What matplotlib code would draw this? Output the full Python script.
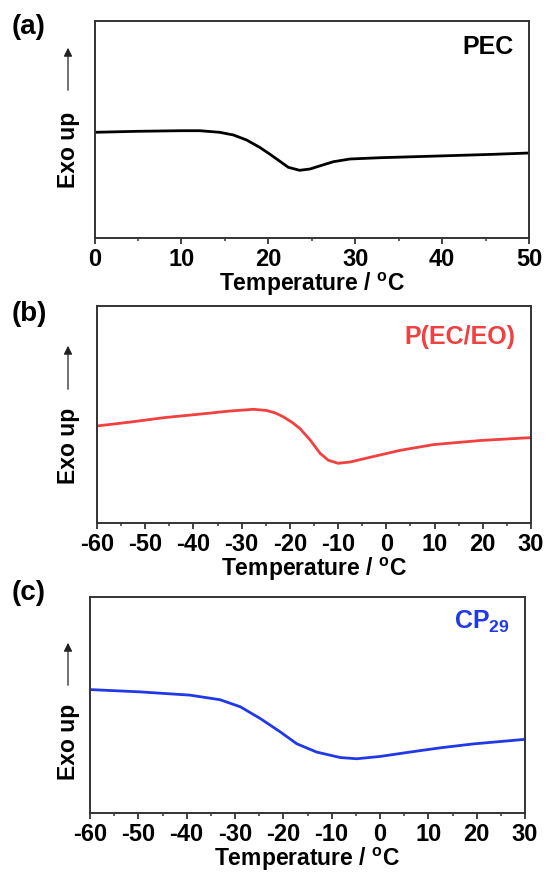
import numpy as np
import matplotlib
matplotlib.use("Agg")
import matplotlib.pyplot as plt
from matplotlib.patches import FancyArrowPatch

plt.rcParams['font.family'] = ['Liberation Sans', 'DejaVu Sans']
plt.rcParams['font.weight'] = 'bold'
plt.rcParams['axes.unicode_minus'] = False
plt.rcParams['mathtext.fontset'] = 'custom'
plt.rcParams['mathtext.rm'] = 'Liberation Sans:bold'
plt.rcParams['mathtext.bf'] = 'Liberation Sans:bold'
plt.rcParams['mathtext.it'] = 'Liberation Sans:bold'

# ---- data (heat flow, arbitrary units) ----
pec_T = [0, 5, 10, 12.1, 14.4, 16, 17.5, 19, 20.2, 21.4, 22.3, 23.6, 24.8, 26, 27.5, 29.4, 32.9, 38.4, 46, 50]
pec_H = [105.7, 106.7, 107.3, 107.3, 105.7, 103, 98, 90.7, 83.7, 76.3, 70.7, 67.7, 69, 72.3, 76.3, 79, 80.3, 81.7, 83.7, 85]

peceo_T = [-60, -53, -46, -39, -32.4, -27.5, -24.8, -23, -21.3, -19.5, -17.9, -15.8, -13.7, -12, -10, -7.5, -4, 2.9, 9.8, 19.5, 30]
peceo_H = [97, 101, 105.4, 108.7, 112, 113.7, 112.5, 110, 106, 100.5, 94.4, 83, 69.5, 62.7, 59.7, 61, 65, 72.7, 78.4, 82.5, 85.4]

cp29_T = [-60, -49.7, -39.3, -33.1, -28.9, -24.8, -20.7, -17.2, -13.1, -8.2, -4.8, 0, 6.9, 12.5, 19.3, 30]
cp29_H = [124, 121.7, 118.4, 113.8, 106.7, 95, 81.7, 69.5, 61.2, 55.7, 54.5, 56.8, 61.7, 65.5, 69.4, 74]

panel_letters = ['(a)', '(b)', '(c)']
sample_names = ['PEC', 'P(EC/EO)', r'CP$_{\mathregular{29}}$']
colors = ['#000000', '#f04040', '#2038e6']
xlims = [(0, 50), (-60, 30), (-60, 30)]
xticks = [list(range(0, 51, 10)), list(range(-60, 31, 10)), list(range(-60, 31, 10))]
xminor = [list(range(5, 50, 10)), list(range(-55, 30, 10)), list(range(-55, 30, 10))]
series = [(pec_T, pec_H), (peceo_T, peceo_H), (cp29_T, cp29_H)]

W, H = 546, 875
fig = plt.figure(figsize=(W / 100, H / 100), dpi=100)

# axes boxes in pixels: left, right, top, bottom
boxes = [(94.5, 529, 21, 238), (97, 531, 306, 523), (90, 525, 597, 813)]
letter_pos = [(12, 27), (12, 314), (12, 593)]
arrow_pos = [(68, 45, 93, 150), (68, 343, 392, 446), (68, 640, 688, 742)]
name_y = [0.88, 0.855, 0.885]

for i in range(3):
    l, r, t, b = boxes[i]
    ax = fig.add_axes([l / W, 1 - b / H, (r - l) / W, (b - t) / H])
    T, Hf = series[i]
    ax.plot(T, Hf, color=colors[i], lw=2.0, solid_capstyle='round', solid_joinstyle='round')
    ax.set_xlim(*xlims[i])
    ax.set_ylim(0, 217)
    ax.set_yticks([])
    ax.set_xticks(xticks[i])
    ax.set_xticks(xminor[i], minor=True)
    ax.tick_params(axis='x', which='major', direction='out', length=4, width=1.3,
                   labelsize=17, pad=3, color='#333333')
    ax.tick_params(axis='x', which='minor', direction='out', length=2.2, width=1.1, color='#333333')
    for lab in ax.get_xticklabels():
        lab.set_fontweight('bold')
    for s in ax.spines.values():
        s.set_linewidth(1.4)
        s.set_color('#333333')
    ax.set_xlabel(r'Temperature / $^{\mathregular{o}}$C', fontsize=16.5, fontweight='bold', labelpad=0)
    ax.text(0.965, name_y[i], sample_names[i], transform=ax.transAxes, ha='right', va='center',
            fontsize=18, fontweight='bold', color=colors[i])
    lx, ly = letter_pos[i]
    fig.text(lx / W, 1 - ly / H, panel_letters[i], fontsize=20, fontweight='bold', va='center', ha='left')
    ax_x, a_top, a_bot, t_c = arrow_pos[i]
    fig.text(ax_x / W, 1 - t_c / H, 'Exo up', rotation=90, fontsize=16.5, fontweight='bold',
             ha='center', va='center')
    fig.add_artist(FancyArrowPatch(
        (ax_x / W, 1 - a_bot / H), (ax_x / W, 1 - a_top / H), transform=fig.transFigure,
        arrowstyle='-|>,head_length=5,head_width=2.5', mutation_scale=1, lw=0.9, color='#222222'))

fig.savefig('out.png', dpi=100)
